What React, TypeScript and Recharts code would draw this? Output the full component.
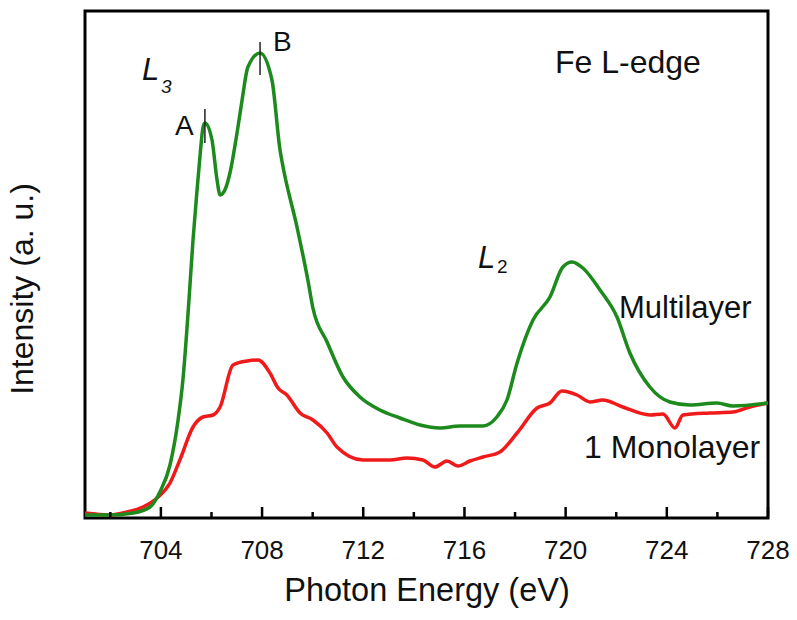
import { Customized, Line, LineChart, ReferenceArea, ReferenceLine, XAxis, YAxis } from 'recharts'

// Fe L-edge XAS (intensity in arbitrary units)
const multiEnergy = [
  701.0, 701.99, 702.9, 703.57, 703.96, 704.36, 704.68, 704.87, 705.11, 705.27, 705.43, 705.55, 705.66, 705.74,
  706.02, 706.22, 706.34, 706.53, 706.73, 707.01, 707.21, 707.44, 707.92, 708.39, 708.71, 708.83, 709.38, 709.81,
  710.01, 710.57, 711.2, 711.87, 712.66, 713.45, 714.24, 715.03, 715.82, 716.73, 717.28, 717.68, 718.08, 718.71,
  719.38, 719.89, 720.25, 720.68, 721.36, 722.03, 722.54, 723.33, 724.12, 724.91, 725.98, 726.61, 728.0,
]
const multiIntensity = [
  0.03, 0.03, 0.05, 0.11, 0.26, 0.53, 0.98, 1.38, 2.18, 2.78, 3.28, 3.63, 3.9, 3.95,
  3.78, 3.38, 3.23, 3.28, 3.45, 3.85, 4.18, 4.51, 4.65, 4.38, 3.68, 3.51, 2.91, 2.38,
  2.1, 1.76, 1.41, 1.21, 1.08, 1.0, 0.93, 0.9, 0.92, 0.92, 1.01, 1.18, 1.55, 1.98,
  2.21, 2.51, 2.56, 2.5, 2.28, 2.01, 1.65, 1.31, 1.16, 1.13, 1.15, 1.12, 1.15,
]

const monoEnergy = [
  701.0, 701.99, 702.66, 703.29, 703.85, 704.36, 704.75, 705.27, 705.66, 706.06, 706.34, 706.85, 707.4, 707.84,
  708.31, 708.63, 708.98, 709.5, 710.01, 710.57, 710.96, 711.99, 713.06, 713.73, 714.36, 714.83, 715.31, 715.74,
  716.22, 716.73, 717.4, 718.08, 718.87, 719.38, 719.85, 720.45, 720.96, 721.47, 722.26, 723.33, 723.85, 724.32,
  724.64, 725.7, 726.61, 727.28, 728.0,
]
const monoIntensity = [
  0.05, 0.03, 0.06, 0.11, 0.2, 0.35, 0.58, 0.91, 1.01, 1.03, 1.11, 1.53, 1.57, 1.58,
  1.45, 1.3, 1.23, 1.05, 0.98, 0.85, 0.71, 0.58, 0.58, 0.6, 0.58, 0.51, 0.57, 0.52,
  0.57, 0.61, 0.66, 0.85, 1.1, 1.15, 1.27, 1.23, 1.16, 1.18, 1.11, 1.03, 1.04, 0.9,
  1.03, 1.05, 1.06, 1.11, 1.15,
]

const xTicks = [702, 704, 706, 708, 710, 712, 714, 716, 718, 720, 722, 724, 726, 728]
const xDomain: [number, number] = [701, 728]
const yDomain: [number, number] = [0, 5.07]

// peak markers A and B: [energy, low, high]
const peakA = [705.74, 3.75, 4.09]
const peakB = [707.92, 4.43, 4.76]

const multiData = multiEnergy.map((e, i) => ({ e, v: multiIntensity[i] }))
const monoData = monoEnergy.map((e, i) => ({ e, v: monoIntensity[i] }))

const FONT = '"Liberation Sans", Arial, Helvetica, sans-serif'

function EnergyTick({ x, y, payload }: any) {
  const major = payload.value % 4 === 0
  return (
    <g>
      <line x1={x} x2={x} y1={y} y2={y - (major ? 11 : 6)} stroke="#000" strokeWidth={2.5} />
      {major && (
        <text x={x} y={y + 41} textAnchor="middle" fontSize={26} fontFamily={FONT} fill="#111">
          {payload.value}
        </text>
      )}
    </g>
  )
}

function Annotations() {
  const t = { fontFamily: FONT, fill: '#111' }
  return (
    <g>
      <text x={555} y={73} fontSize={32} {...t}>Fe L-edge</text>
      <text x={619} y={318} fontSize={31} {...t}>Multilayer</text>
      <text x={584} y={458} fontSize={32} {...t}>1 Monolayer</text>
      <text x={175} y={135} fontSize={28} {...t}>A</text>
      <text x={273} y={51} fontSize={28} {...t}>B</text>
      <text x={142} y={80} fontSize={31} fontStyle="italic" {...t}>L</text>
      <text x={161} y={93} fontSize={19} fontStyle="italic" {...t}>3</text>
      <text x={478} y={268} fontSize={31} fontStyle="italic" {...t}>L</text>
      <text x={497} y={273} fontSize={19} {...t}>2</text>
      <text x={427} y={601} fontSize={32.5} textAnchor="middle" {...t}>Photon Energy (eV)</text>
      <text transform="translate(33,289) rotate(-90)" fontSize={32} textAnchor="middle" {...t}>Intensity (a. u.)</text>
    </g>
  )
}

export default function App() {
  return (
    <div style={{ position: 'absolute', left: 0, top: 0, width: 797, height: 620, background: '#fff' }}>
      <LineChart width={797} height={620} margin={{ top: 11, right: 29, left: 85, bottom: 42 }}>
        <XAxis
          type="number"
          dataKey="e"
          domain={xDomain}
          allowDataOverflow
          ticks={xTicks}
          interval={0}
          tickSize={0}
          tickMargin={0}
          axisLine={false}
          tick={<EnergyTick />}
          height={60}
        />
        <YAxis type="number" dataKey="v" domain={yDomain} allowDataOverflow hide />
        <ReferenceArea x1={xDomain[0]} x2={xDomain[1]} y1={yDomain[0]} y2={yDomain[1]} fill="none" stroke="#000" strokeWidth={3} />
        <Line data={monoData} dataKey="v" type="monotone" stroke="#f01a1a" strokeWidth={3.5} dot={false} isAnimationActive={false} />
        <Line data={multiData} dataKey="v" type="monotone" stroke="#1c8a1c" strokeWidth={3.5} dot={false} isAnimationActive={false} />
        <ReferenceLine segment={[{ x: peakA[0], y: peakA[1] }, { x: peakA[0], y: peakA[2] }]} stroke="#222" strokeWidth={1.5} />
        <ReferenceLine segment={[{ x: peakB[0], y: peakB[1] }, { x: peakB[0], y: peakB[2] }]} stroke="#222" strokeWidth={1.5} />
        <Customized component={<Annotations />} />
      </LineChart>
    </div>
  )
}
